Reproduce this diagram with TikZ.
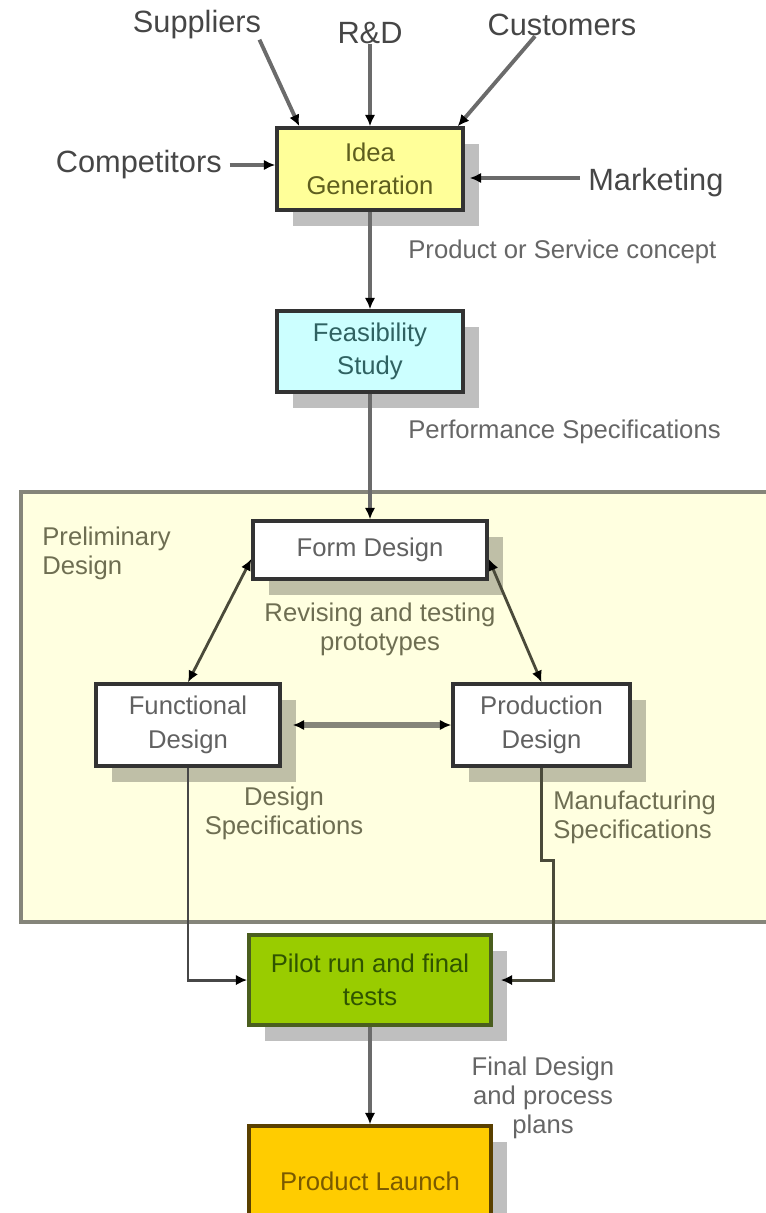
\documentclass[tikz,border=0pt]{standalone}
\usepackage{fontspec}
\setmainfont{Liberation Sans}
\usepackage{xcolor}
\usepackage{tikz}
\usetikzlibrary{arrows.meta, positioning, calc, shadows}

\definecolor{ideafill}{HTML}{FFFF99}
\definecolor{ideatext}{HTML}{5E5E1E}
\definecolor{feasfill}{HTML}{CCFFFF}
\definecolor{feastext}{HTML}{2F6262}
\definecolor{prelimfill}{HTML}{FFFFE0}
\definecolor{prelimline}{HTML}{85857A}
\definecolor{prelimtext}{HTML}{6E6E52}
\definecolor{pilotfill}{HTML}{99CC00}
\definecolor{pilotline}{HTML}{4A5E1E}
\definecolor{pilottext}{HTML}{2F5400}
\definecolor{launchfill}{HTML}{FFCC00}
\definecolor{launchline}{HTML}{5A4000}
\definecolor{launchtext}{HTML}{7A5A00}
\definecolor{labeltext}{HTML}{464646}
\definecolor{notetext}{HTML}{666666}
\definecolor{linkline}{HTML}{4A4A3A}

\newcommand{\outerfont}{\fontsize{17.5}{21}\selectfont}
\newcommand{\notefont}{\fontsize{14.6}{16.5}\selectfont}
\newcommand{\boxfont}{\fontsize{14.6}{19}\selectfont}

\begin{document}
\begin{tikzpicture}[
    node distance=2cm and 3cm,
    box/.style={rectangle, draw=black!80, line width=2pt, align=center, fill=white, font=\boxfont, text=black!62, drop shadow={shadow xshift=0.32cm, shadow yshift=-0.32cm, fill=black, opacity=0.25}},
    outer_label/.style={font=\outerfont, text=labeltext, inner sep=0pt},
    note/.style={font=\notefont, text=notetext, align=center, inner sep=0pt},
    stagebox/.style={draw=prelimline, fill=prelimfill, line width=2.4pt},
    arrow/.style={-{Latex[length=6.5pt, width=6pt, color=black]}, line width=2.2pt, color=black!58},
    link/.style={{Latex[length=6.5pt, width=6pt, color=black]}-{Latex[length=6.5pt, width=6pt, color=black]}, line width=1.6pt, color=linkline}
]
    \useasboundingbox (0,0) rectangle (15.3,-24.26);

    % ============================================================
    % PRELIMINARY DESIGN AREA (runs off the right edge)
    % ============================================================
    \draw[stagebox] (0.42,-9.84) rectangle (16,-18.44);
    \node[note, text=prelimtext, align=left, anchor=west] (prelim-label) at (0.84,-11.07) {Preliminary\\Design};

    % ============================================================
    % IDEA GENERATION AND ITS SOURCES
    % ============================================================
    \node[box, fill=ideafill, text=ideatext, minimum width=3.72cm, minimum height=1.64cm] (idea) at (7.4,-3.38) {Idea\\Generation};

    \node[outer_label] (suppliers) at (3.94,-0.5) {Suppliers};
    \node[outer_label] (rd) at (7.4,-0.66) {R\&D};
    \node[outer_label] (customers) at (11.24,-0.5) {Customers};
    \node[outer_label, anchor=east] (competitors) at (4.44,-3.3) {Competitors};
    \node[outer_label, anchor=west] (marketing) at (11.76,-3.66) {Marketing};

    \draw[arrow] ([xshift=-0.04cm]suppliers.south east) -- ([xshift=0.48cm]idea.north west);
    \draw[arrow] (rd.south) -- (idea.north);
    \draw[arrow] ([xshift=-0.54cm]customers.south) -- ([xshift=-0.14cm]idea.north east);
    \draw[arrow] ([xshift=0.15cm]competitors.east) -- (competitors.east -| idea.west);
    \draw[arrow] ([xshift=-0.16cm,yshift=0.1cm]marketing.west) -- ([xshift=0.1cm,yshift=0.1cm]marketing.west -| idea.east);

    % ============================================================
    % MAIN COLUMN
    % ============================================================
    \node[note, anchor=west] (concept) at (8.16,-5.04) {Product or Service concept};
    \node[box, fill=feasfill, text=feastext, minimum width=3.72cm, minimum height=1.62cm, below=1.95cm of idea] (feas) {Feasibility\\Study};
    \node[note, anchor=west] (perfspec) at (8.16,-8.64) {Performance Specifications};

    \node[box, minimum width=4.68cm, minimum height=1.16cm, below=2.51cm of feas] (form) {Form Design};
    \node[note, text=prelimtext] (revising) at (7.6,-12.58) {Revising and testing\\prototypes};

    \node[box, minimum width=3.68cm, minimum height=1.64cm] (func) at (3.76,-14.5) {Functional\\Design};
    \node[box, minimum width=3.54cm, minimum height=1.64cm, right=3.39cm of func] (prod) {Production\\Design};

    \node[note, text=prelimtext] (designspec) at (5.68,-16.26) {Design\\Specifications};
    \node[note, text=prelimtext, align=left, anchor=west] (mfgspec) at (11.06,-16.34) {Manufacturing\\Specifications};

    \node[box, fill=pilotfill, draw=pilotline, text=pilottext, minimum width=4.84cm, minimum height=1.8cm, below=7.05cm of form] (pilot) {Pilot run and final\\tests};
    \node[note] (finalspec) at (10.86,-21.96) {Final Design\\and process\\plans};
    \node[box, fill=launchfill, draw=launchline, text=launchtext, minimum width=4.84cm, minimum height=2.2cm, below=1.95cm of pilot] (launch) {Product Launch};

    % Connections
    \draw[arrow] (idea) -- (feas);
    \draw[arrow] (feas) -- (form);
    \draw[link] ([yshift=-0.18cm]form.west) -- (func.north);
    \draw[link] ([yshift=-0.18cm]form.east) -- (prod.north);
    \draw[link, line width=3pt, color=prelimline] ([xshift=0.22cm]func.east) -- (prod.west);
    \draw[-{Latex[length=6.5pt, width=6pt, color=black]}, line width=1.7pt, color=black!72] (func.south) |- (pilot.west);
    \draw[-{Latex[length=6.5pt, width=6pt, color=black]}, line width=1.7pt, color=linkline] (prod.south) -- ++(0,-1.86) -- ++(0.24,0) |- ([xshift=0.16cm]pilot.east);
    \draw[arrow] (pilot) -- (launch);

\end{tikzpicture}
\end{document}
